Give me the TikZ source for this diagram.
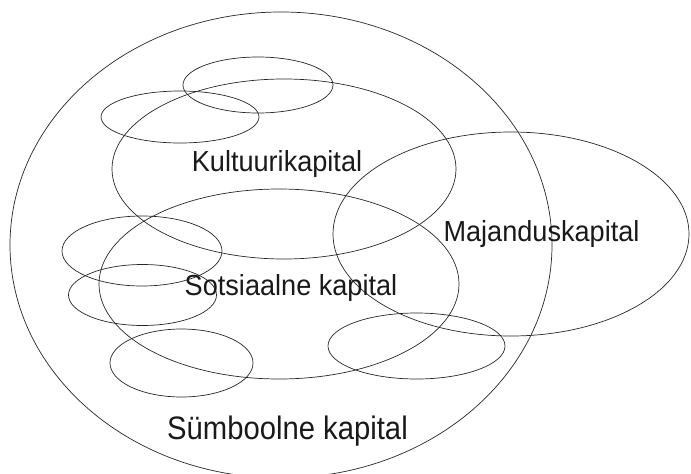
\documentclass[tikz,border=0pt]{standalone}
\usepackage{fontspec}
\setmainfont{Liberation Sans}
\begin{document}
\begin{tikzpicture}[x=1pt,y=-1pt,
  ring/.style={draw=black!85,line width=0.7pt},
  lbl/.style={inner sep=0pt,anchor=base,text=black!90,transform shape,xscale=0.935,
    font=\fontsize{29}{32}\selectfont},
  biglbl/.style={inner sep=0pt,anchor=base,text=black!90,transform shape,xscale=0.9,
    font=\fontsize{32.5}{35}\selectfont}]
\useasboundingbox (0,0) rectangle (691,474);
% outer ring: symbolic capital
\draw[ring] (281,245) ellipse [x radius=271,y radius=233];
% cultural and social capital
\draw[ring] (284,169) ellipse [x radius=172,y radius=90];
\draw[ring] (279,284) ellipse [x radius=180,y radius=95];
% economic capital
\draw[ring] (511,234) ellipse [x radius=178,y radius=102];
% small satellite sets
\draw[ring] (258,85) ellipse [x radius=75,y radius=28];
\draw[ring] (180,117) ellipse [x radius=79,y radius=26];
\draw[ring] (142,251) ellipse [x radius=80,y radius=35];
\draw[ring] (142.5,295) ellipse [x radius=74,y radius=30.5];
\draw[ring] (181.5,363) ellipse [x radius=71.5,y radius=34];
\draw[ring] (416.5,346) ellipse [x radius=88.5,y radius=33];
% labels
\node[lbl] (kult) at (277,171.5) {Kultuurikapital};
\node[lbl] (maj) at (541.5,241.5) {Majanduskapital};
\node[lbl] (sots) at (291,295.7) {Sotsiaalne kapital};
\node[biglbl] (symb) at (287.5,439.3) {Sümboolne kapital};
\end{tikzpicture}
\end{document}
